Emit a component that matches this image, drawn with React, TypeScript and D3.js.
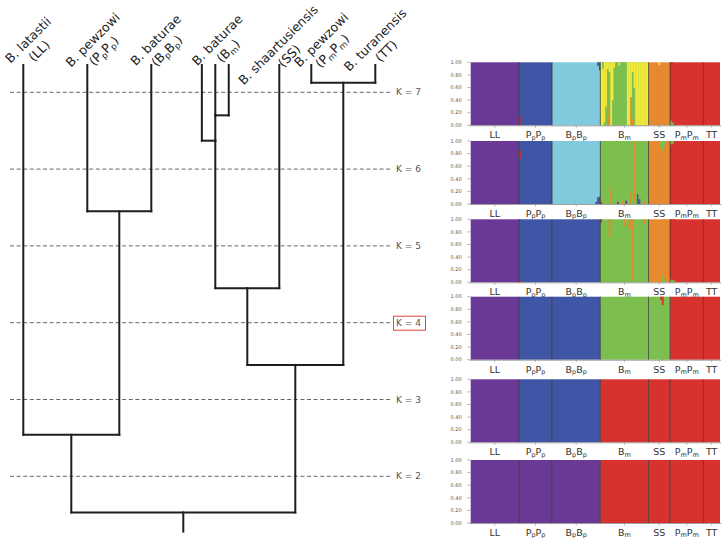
import React from "react";
import * as d3 from "d3";

// ---------- DATA ----------
const taxa = ["LL", "PpPp", "BpBp", "Bm", "SS", "PmPm", "TT"];
const taxonNames = ["B. latastii", "B. pewzowi", "B. baturae", "B. baturae", "B. shaartusiensis", "B. pewzowi", "B. turanensis"];
const taxonCodes: [string, string][][] = [
  [["LL", ""]],
  [["P", "p"], ["P", "p"]],
  [["B", "p"], ["B", "p"]],
  [["B", "m"]],
  [["SS", ""]],
  [["P", "m"], ["P", "m"]],
  [["TT", ""]],
];
const groupSizes = [29, 20, 29, 29, 13, 20, 10];
const kValues = [7, 6, 5, 4, 3, 2];
const highlightedK = 4;
const yTickValues = [0, 0.2, 0.4, 0.6, 0.8, 1];

// tree: leaf slots (horizontal order units) and merges with their heights (in K-level units)
const leafSlots: [string, number][] = [
  ["LL", 0], ["PpPp", 1], ["BpBp", 2], ["Bm_a", 2.79], ["Bm", 3], ["Bm_b", 3.21],
  ["SS", 4], ["PmPm", 4.5], ["TT", 5.5],
];
const leafLevel = 0.645;
const rootStemLevel = 6.72;
// [childA, childB, height, name, stem at child index (or -1 for midpoint)]
const merges: [string, string, number, string, number][] = [
  ["PmPm", "TT", 0.875, "PT", -1],
  ["Bm", "Bm_b", 1.3, "Bm1", 0],
  ["Bm_a", "Bm1", 1.63, "Bm2", 1],
  ["PpPp", "BpBp", 2.55, "PB", -1],
  ["Bm2", "SS", 3.55, "BS", -1],
  ["BS", "PT", 4.55, "BSPT", -1],
  ["LL", "PB", 5.46, "LPB", -1],
  ["LPB", "BSPT", 6.47, "root", -1],
];

const clusterColors: Record<string, string> = {
  pu: "#6a3996",
  bl: "#3f56a6",
  sk: "#80cade",
  gr: "#7dbf4f",
  ye: "#f3e93b",
  or: "#e7892f",
  re: "#d8322e",
};

// main cluster of each group at each K
const baseK7 = ["pu", "bl", "sk", "gr", "or", "re", "re"];
const baseK6 = ["pu", "bl", "sk", "gr", "or", "re", "re"];
const baseK5 = ["pu", "bl", "bl", "gr", "or", "re", "re"];
const baseK4 = ["pu", "bl", "bl", "gr", "gr", "re", "re"];
const baseK3 = ["pu", "bl", "bl", "re", "re", "re", "re"];
const baseK2 = ["pu", "pu", "pu", "re", "re", "re", "re"];

type Seg = [string, number];
type Admix = [number, number, Seg[]];

// Bm individuals at K = 7 (segments bottom -> top)
const bmK7: Seg[][] = [
  [["ye", 1]],
  [["ye", 0.9], ["gr", 0.1]],
  [["gr", 0.05], ["ye", 0.95]],
  [["gr", 0.3], ["ye", 0.7]],
  [["or", 0.12], ["gr", 0.78], ["ye", 0.1]],
  [["or", 0.3], ["gr", 0.55], ["ye", 0.15]],
  [["ye", 1]],
  [["gr", 0.4], ["ye", 0.6]],
  [["gr", 0.92], ["ye", 0.08]], [["gr", 1]], [["gr", 1]], [["gr", 0.95], ["ye", 0.05]],
  [["gr", 1]], [["gr", 1]], [["gr", 1]], [["gr", 1]],
  [["ye", 1]], [["ye", 1]],
  [["or", 0.45], ["ye", 0.55]],
  [["or", 0.1], ["gr", 0.75], ["ye", 0.15]],
  [["gr", 0.6], ["ye", 0.4]],
  [["ye", 1]], [["ye", 1]], [["ye", 1]], [["ye", 1]], [["ye", 1]], [["ye", 1]], [["ye", 1]], [["ye", 1]],
];

const admixK7: Admix[] = [
  [1, 0, [["re", 0.15], ["bl", 0.85]]],
  [2, 28, [["sk", 0.88], ["bl", 0.12]]],
  [2, 27, [["sk", 0.95], ["bl", 0.05]]],
  [4, 6, [["or", 0.96], ["ye", 0.04]]],
  [5, 0, [["gr", 0.08], ["re", 0.92]]],
  [5, 1, [["gr", 0.05], ["re", 0.95]]],
  ...bmK7.map((s, i) => [3, i, s] as Admix),
];
const admixK6: Admix[] = [
  [1, 0, [["bl", 0.72], ["re", 0.14], ["bl", 0.14]]],
  [2, 26, [["bl", 0.04], ["sk", 0.96]]],
  [2, 27, [["pu", 0.03], ["bl", 0.08], ["sk", 0.89]]],
  [2, 28, [["bl", 0.12], ["sk", 0.88]]],
  [3, 0, [["pu", 0.03], ["or", 0.05], ["gr", 0.92]]],
  [3, 6, [["or", 0.27], ["gr", 0.73]]],
  [3, 10, [["pu", 0.04], ["gr", 0.96]]],
  [3, 13, [["or", 0.05], ["gr", 0.95]]],
  [3, 15, [["pu", 0.06], ["gr", 0.94]]],
  [3, 18, [["or", 0.2], ["gr", 0.8]]],
  [3, 20, [["gr", 0.05], ["or", 0.95]]],
  [3, 22, [["bl", 0.13], ["pu", 0.03], ["gr", 0.84]]],
  [3, 23, [["bl", 0.08], ["gr", 0.92]]],
  [3, 26, [["or", 0.05], ["gr", 0.95]]],
  [4, 7, [["or", 0.9], ["gr", 0.1]]],
  [4, 8, [["or", 0.85], ["gr", 0.15]]],
  [4, 9, [["or", 0.93], ["gr", 0.07]]],
  [5, 0, [["re", 0.95], ["gr", 0.05]]],
  [5, 1, [["re", 0.96], ["gr", 0.04]]],
];
const admixK5: Admix[] = [
  [1, 0, [["re", 0.03], ["bl", 0.97]]],
  [3, 0, [["gr", 0.95], ["re", 0.05]]],
  [3, 5, [["gr", 0.72], ["or", 0.28]]],
  [3, 14, [["gr", 0.9], ["or", 0.1]]],
  [3, 17, [["gr", 0.85], ["or", 0.15]]],
  [3, 18, [["gr", 0.85], ["or", 0.15]]],
  [3, 19, [["gr", 0.03], ["or", 0.97]]],
  [3, 26, [["gr", 0.93], ["or", 0.07]]],
  [4, 8, [["gr", 0.12], ["or", 0.88]]],
  [4, 9, [["gr", 0.05], ["or", 0.95]]],
  [5, 0, [["gr", 0.05], ["re", 0.95]]],
  [5, 1, [["gr", 0.04], ["re", 0.96]]],
  [5, 2, [["gr", 0.03], ["re", 0.97]]],
];
const admixK4: Admix[] = [
  [4, 7, [["gr", 0.95], ["re", 0.05]]],
  [4, 8, [["gr", 0.87], ["re", 0.13]]],
];
const admixK3: Admix[] = [];
const admixK2: Admix[] = [];

const baseList = [baseK7, baseK6, baseK5, baseK4, baseK3, baseK2];
const admixList = [admixK7, admixK6, admixK5, admixK4, admixK3, admixK2];

// ---------- LAYOUT ----------
const W = 727;
const H = 541;
const FONT = "'DejaVu Sans', Verdana, sans-serif";
const panelTops = [62.3, 141, 219.3, 296.7, 379.3, 460];
const panelH = 63;
const plotLeft = 470.7;
const plotRight = 720;
const labelNudgeX = [2, 2.5, 1.5, -1, -4, 7, -3];
const labelNudgeY = [0, 0, 0, 0, 5, 0, 0];

function Coded({ parts, subSize, shift }: { parts: [string, string][]; subSize: number; shift: number }) {
  const out: React.ReactNode[] = [];
  let shifted = false;
  parts.forEach(([m, s], i) => {
    out.push(
      <tspan key={i + "m"} dy={shifted ? -shift : 0}>
        {m}
      </tspan>
    );
    shifted = false;
    if (s) {
      out.push(
        <tspan key={i + "s"} fontSize={subSize} dy={shift}>
          {s}
        </tspan>
      );
      shifted = true;
    }
  });
  return <>{out}</>;
}

export default function App() {
  // ----- tree -----
  const tx = d3.scaleLinear().domain([0, 4]).range([23.3, 279.3]);
  const ty = d3.scaleLinear().domain([1, 6]).range([92.3, 476.3]);
  const nodes = new Map<string, { x: number; h: number }>();
  leafSlots.forEach(([n, s]) => nodes.set(n, { x: s, h: leafLevel }));
  const segs: [number, number, number, number][] = [];
  merges.forEach(([a, b, h, name, stem]) => {
    const na = nodes.get(a)!;
    const nb = nodes.get(b)!;
    const x = stem === 0 ? na.x : stem === 1 ? nb.x : (na.x + nb.x) / 2;
    segs.push([tx(na.x), ty(na.h), tx(na.x), ty(h)]);
    segs.push([tx(nb.x), ty(nb.h), tx(nb.x), ty(h)]);
    segs.push([tx(Math.min(na.x, nb.x)), ty(h), tx(Math.max(na.x, nb.x)), ty(h)]);
    nodes.set(name, { x, h });
  });
  const root = nodes.get("root")!;
  segs.push([tx(root.x), ty(root.h), tx(root.x), ty(rootStemLevel)]);

  // ----- structure plots -----
  const nInd = d3.sum(groupSizes);
  const bx = d3.scaleLinear().domain([0, nInd]).range([plotLeft, plotRight]);
  const starts = Array.from(d3.cumsum([0, ...groupSizes]));

  return (
    <svg width={W} height={H} style={{ position: "absolute", left: 0, top: 0, background: "#fff" }} fontFamily={FONT}>
      <rect x={0} y={0} width={W} height={H} fill="#fff" />
      {kValues.map((k, i) => {
        const y = ty(i + 1);
        return (
          <g key={"k" + k}>
            <line x1={10} x2={392} y1={y} y2={y} stroke="#666" strokeWidth={1} strokeDasharray="4 2.6" />
            <text x={396} y={y} dy="0.35em" fontSize={9} fill="#555">
              {`K = ${k}`}
            </text>
            {k === highlightedK && (
              <rect x={393.5} y={y - 6.5} width={32} height={14} fill="none" stroke="#e0463f" strokeWidth={1} />
            )}
          </g>
        );
      })}
      <g stroke="#1e1e1e" strokeWidth={2} strokeLinecap="square">
        {segs.map((s, i) => (
          <line key={i} x1={s[0]} y1={s[1]} x2={s[2]} y2={s[3]} />
        ))}
      </g>
      {taxa.map((t, i) => {
        const slot = leafSlots.find((l) => l[0] === t)![1];
        const x = tx(slot) + labelNudgeX[i];
        return (
          <g key={"lab" + t} transform={`translate(${x + 6},${43 + labelNudgeY[i]}) rotate(-45)`} fontSize={12.5} fill="#222" textAnchor="middle">
            <text x={0} y={0}>{taxonNames[i]}</text>
            <text x={0} y={15.5}>
              <Coded parts={[["(", ""], ...taxonCodes[i], [")", ""]]} subSize={8.5} shift={2.5} />
            </text>
          </g>
        );
      })}
      {kValues.map((k, pi) => {
        const top = panelTops[pi];
        const bottom = top + panelH;
        const y = d3.scaleLinear().domain([0, 1]).range([bottom, top]);
        const base = baseList[pi];
        const rects: React.ReactNode[] = [];
        groupSizes.forEach((n, g) => {
          rects.push(
            <rect key={"b" + g} x={bx(starts[g])} width={bx(starts[g + 1]) - bx(starts[g])} y={top} height={panelH} fill={clusterColors[base[g]]} />
          );
        });
        admixList[pi].forEach(([g, j, sgs]) => {
          const gi = starts[g] + j;
          let acc = 0;
          sgs.forEach(([c, q], si) => {
            const y0 = y(acc);
            const y1 = y(acc + q);
            acc += q;
            rects.push(
              <rect
                key={gi + "_" + si}
                x={bx(gi)}
                width={bx(gi + 1) - bx(gi) + 0.15}
                y={y1}
                height={y0 - y1 + (si > 0 ? 0.3 : 0)}
                fill={clusterColors[c]}
              />
            );
          });
        });
        return (
          <g key={"p" + k}>
            {rects}
            {starts.slice(1, -1).map((s, i) => (
              <line key={"sep" + i} x1={bx(s)} x2={bx(s)} y1={top} y2={bottom} stroke="#2a2a2a" strokeWidth={0.8} strokeOpacity={0.85} />
            ))}
            {yTickValues.map((v) => (
              <g key={"t" + v}>
                <line x1={plotLeft - 3.5} x2={plotLeft} y1={y(v)} y2={y(v)} stroke="#888" strokeWidth={0.6} />
                <text x={plotLeft - 9} y={y(v)} dy="0.35em" fontSize={5} fill="#555" textAnchor="end">
                  {d3.format(".2f")(v)}
                </text>
              </g>
            ))}
            <line x1={plotLeft - 1} x2={plotRight + 1} y1={bottom + 0.5} y2={bottom + 0.5} stroke="#888" strokeWidth={0.8} />
            {taxa.map((t, g) => {
              const cx = bx((starts[g] + starts[g + 1]) / 2);
              return (
                <g key={"gl" + t}>
                  <line x1={cx} x2={cx} y1={bottom + 0.5} y2={bottom + 2.5} stroke="#888" strokeWidth={0.6} />
                  <text x={cx} y={bottom + 13} fontSize={9.5} fill="#333" textAnchor="middle">
                    <Coded parts={taxonCodes[g]} subSize={6.5} shift={1.2} />
                  </text>
                </g>
              );
            })}
          </g>
        );
      })}
    </svg>
  );
}
